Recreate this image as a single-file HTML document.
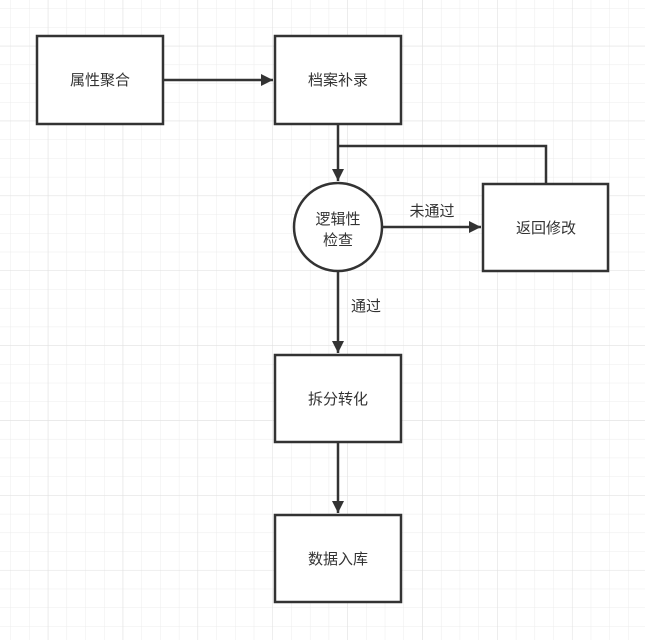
<!DOCTYPE html>
<html><head><meta charset="utf-8"><style>
html,body{margin:0;padding:0;background:#fff;}
svg{display:block;}
text{font-family:"Liberation Sans","Noto Sans CJK SC",sans-serif;font-size:15px;fill:#333;}
</style></head><body>
<svg width="645" height="640" viewBox="0 0 645 640" xmlns="http://www.w3.org/2000/svg">
<defs>
<pattern id="g" x="10.4" y="8.4" width="18.72" height="18.72" patternUnits="userSpaceOnUse">
<path d="M0 0H18.72M0 0V18.72" stroke="#ececec" stroke-width="1" fill="none"/>
</pattern>
<pattern id="G" x="47.8" y="45.8" width="74.88" height="74.88" patternUnits="userSpaceOnUse">
<path d="M0 0H74.88M0 0V74.88" stroke="#e0e0e0" stroke-width="1" fill="none"/>
</pattern>
<marker id="a" markerWidth="12" markerHeight="12" refX="10" refY="5" orient="auto" markerUnits="userSpaceOnUse" viewBox="0 0 10 10">
<path d="M0 0L10 5L0 10Z" fill="#333"/>
</marker>
</defs>
<rect width="645" height="640" fill="url(#g)"/>
<rect width="645" height="640" fill="url(#G)"/>
<g stroke="#333" stroke-width="2.5" fill="#fff">
<rect x="37" y="36" width="126" height="88"/>
<rect x="275" y="36" width="126" height="88"/>
<circle cx="338" cy="227" r="44"/>
<rect x="483" y="184" width="125" height="87"/>
<rect x="275" y="355" width="126" height="87"/>
<rect x="275" y="515" width="126" height="87"/>
</g>
<g stroke="#333" stroke-width="2.5" fill="none">
<line x1="163" y1="80" x2="273" y2="80" marker-end="url(#a)"/>
<line x1="338" y1="124" x2="338" y2="181" marker-end="url(#a)"/>
<polyline points="338,146 546,146 546,184"/>
<line x1="382" y1="227" x2="481" y2="227" marker-end="url(#a)"/>
<line x1="338" y1="271" x2="338" y2="353" marker-end="url(#a)"/>
<line x1="338" y1="442" x2="338" y2="513" marker-end="url(#a)"/>
</g>
<g text-anchor="middle">
<text x="100" y="85">属性聚合</text>
<text x="338" y="85">档案补录</text>
<text x="338" y="224">逻辑性</text>
<text x="338" y="245">检查</text>
<text x="546" y="233">返回修改</text>
<text x="338" y="404">拆分转化</text>
<text x="338" y="564">数据入库</text>
<text x="432" y="216">未通过</text>
<text x="366" y="311">通过</text>
</g>
</svg>
</body></html>
